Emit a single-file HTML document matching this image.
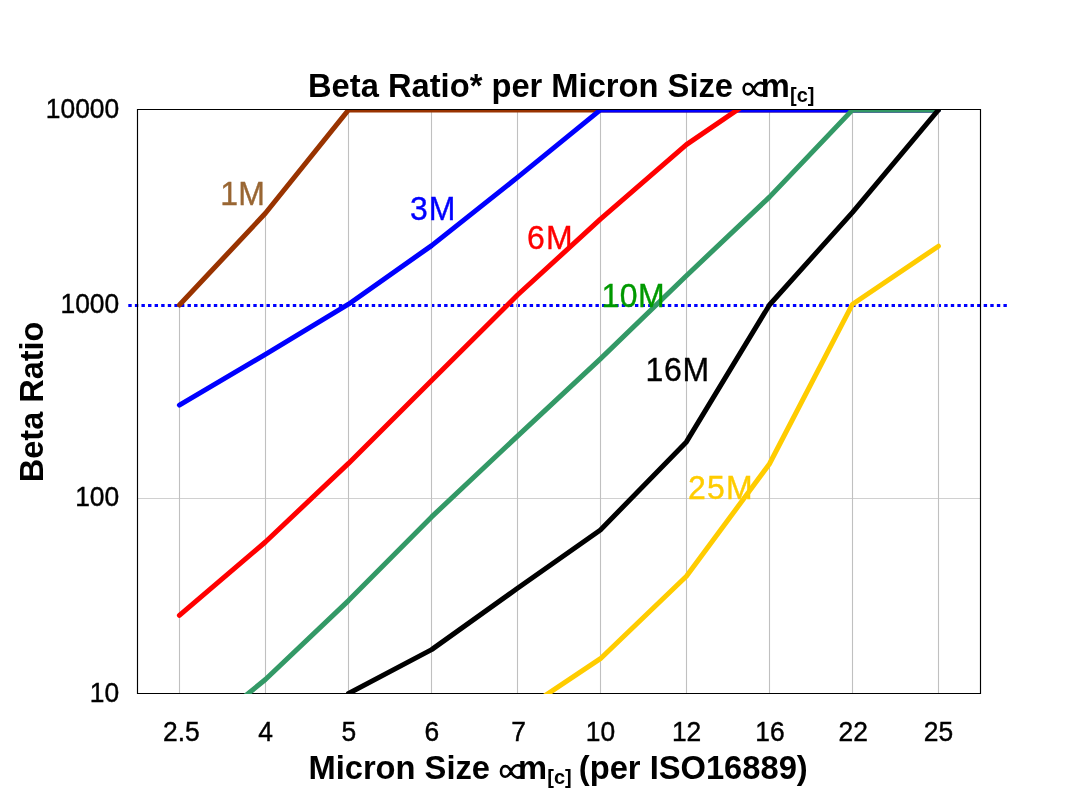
<!DOCTYPE html>
<html><head><meta charset="utf-8"><title>Beta Ratio per Micron Size</title>
<style>html,body{margin:0;padding:0;background:#fff;overflow:hidden}svg{display:block;will-change:transform}text{font-family:"Liberation Sans",sans-serif}.b{font-weight:bold}</style></head>
<body>
<svg width="1090" height="808" viewBox="0 0 1090 808">
<rect width="1090" height="808" fill="#fff"/>
<defs><clipPath id="plot"><rect x="137" y="110" width="844" height="584"/></clipPath></defs>
<line x1="128.3" y1="305.5" x2="1007" y2="305.5" stroke="#0000ff" stroke-width="3.2" stroke-dasharray="3.4 3.18"/>
<line x1="137.5" y1="498.5" x2="980.5" y2="498.5" stroke="#d0d0d0" stroke-width="1.05"/>
<line x1="179.5" y1="305.0" x2="179.5" y2="693.5" stroke="#c0c0c0" stroke-width="1.1"/>
<line x1="265.5" y1="213.3" x2="265.5" y2="693.5" stroke="#c0c0c0" stroke-width="1.1"/>
<line x1="348.5" y1="109.9" x2="348.5" y2="693.5" stroke="#c0c0c0" stroke-width="1.1"/>
<line x1="431.5" y1="109.9" x2="431.5" y2="693.5" stroke="#c0c0c0" stroke-width="1.1"/>
<line x1="517.5" y1="109.9" x2="517.5" y2="693.5" stroke="#c0c0c0" stroke-width="1.1"/>
<line x1="600.5" y1="109.9" x2="600.5" y2="693.5" stroke="#c0c0c0" stroke-width="1.1"/>
<line x1="686.5" y1="109.9" x2="686.5" y2="693.5" stroke="#c0c0c0" stroke-width="1.1"/>
<line x1="769.5" y1="109.9" x2="769.5" y2="693.5" stroke="#c0c0c0" stroke-width="1.1"/>
<line x1="852.5" y1="109.9" x2="852.5" y2="693.5" stroke="#c0c0c0" stroke-width="1.1"/>
<line x1="938.5" y1="109.9" x2="938.5" y2="693.5" stroke="#c0c0c0" stroke-width="1.1"/>
<path d="M137.5 109.5H980.5V693.5H137.5Z" fill="none" stroke="#000" stroke-width="1.15"/>
<g clip-path="url(#plot)" fill="none" stroke-width="5" stroke-linejoin="round" stroke-linecap="round">
<polyline stroke="#993300" points="179.4,305.0 265.4,213.3 348.5,109.9 431.6,109.9 517.5,109.9 600.4,109.9 686.4,109.9 769.4,109.9 852.5,109.9 938.4,109.9"/>
<polyline stroke="#0000ff" points="179.4,405.1 265.4,354.4 348.5,304.2 431.6,245.6 517.5,177.4 600.4,109.9 686.4,109.9 769.4,109.9 852.5,109.9 938.4,109.9"/>
<polyline stroke="#ff0000" points="179.4,615.4 265.4,542.0 348.5,463.4 431.6,380.4 517.5,295.0 600.4,219.2 686.4,144.6 769.4,88.0"/>
<polyline stroke="#339966" points="179.4,749.6 265.4,679.5 348.5,600.6 431.6,516.9 517.5,436.1 600.4,358.8 686.4,275.7 769.4,197.1 852.5,109.9 938.4,109.9"/>
<polyline stroke="#000000" points="348.5,693.5 431.6,649.6 517.5,588.3 600.4,530.0 686.4,441.9 769.4,305.0 852.5,212.3 938.4,109.9"/>
<polyline stroke="#ffcc00" points="517.5,714.0 600.4,658.7 686.4,576.3 769.4,464.0 852.5,304.2 938.4,246.2"/>
</g>
<text transform="translate(119.2,117.6) scale(1.0,1.043)" font-size="26.4" text-anchor="end" stroke="#000" stroke-width="0.4">10000</text>
<text transform="translate(119.2,313.4) scale(1.0,1.043)" font-size="26.4" text-anchor="end" stroke="#000" stroke-width="0.4">1000</text>
<text transform="translate(119.2,506.2) scale(1.0,1.043)" font-size="26.4" text-anchor="end" stroke="#000" stroke-width="0.4">100</text>
<text transform="translate(119.2,701.7) scale(1.0,1.043)" font-size="26.4" text-anchor="end" stroke="#000" stroke-width="0.4">10</text>
<text transform="translate(181.4,740.8) scale(1.0,1.043)" font-size="26.4" text-anchor="middle" stroke="#000" stroke-width="0.4">2.5</text>
<text transform="translate(265.5,740.8) scale(1.0,1.043)" font-size="26.4" text-anchor="middle" stroke="#000" stroke-width="0.4">4</text>
<text transform="translate(348.8,740.8) scale(1.0,1.043)" font-size="26.4" text-anchor="middle" stroke="#000" stroke-width="0.4">5</text>
<text transform="translate(431.8,740.8) scale(1.0,1.043)" font-size="26.4" text-anchor="middle" stroke="#000" stroke-width="0.4">6</text>
<text transform="translate(518.6,740.8) scale(1.0,1.043)" font-size="26.4" text-anchor="middle" stroke="#000" stroke-width="0.4">7</text>
<text transform="translate(600.4,740.8) scale(1.0,1.043)" font-size="26.4" text-anchor="middle" stroke="#000" stroke-width="0.4">10</text>
<text transform="translate(686.6,740.8) scale(1.0,1.043)" font-size="26.4" text-anchor="middle" stroke="#000" stroke-width="0.4">12</text>
<text transform="translate(770.0,740.8) scale(1.0,1.043)" font-size="26.4" text-anchor="middle" stroke="#000" stroke-width="0.4">16</text>
<text transform="translate(853.2,740.8) scale(1.0,1.043)" font-size="26.4" text-anchor="middle" stroke="#000" stroke-width="0.4">22</text>
<text transform="translate(938.5,740.8) scale(1.0,1.043)" font-size="26.4" text-anchor="middle" stroke="#000" stroke-width="0.4">25</text>
<text transform="translate(220.2,204.5) scale(1,1.043)" font-size="32" letter-spacing="0.2" fill="#996633" stroke="#996633" stroke-width="0.35">1M</text>
<text transform="translate(410.0,219.8) scale(1,1.043)" font-size="32" letter-spacing="1.0" fill="#0000ff" stroke="#0000ff" stroke-width="0.35">3M</text>
<text transform="translate(527.0,248.8) scale(1,1.043)" font-size="32" letter-spacing="1.1" fill="#ff0000" stroke="#ff0000" stroke-width="0.35">6M</text>
<text transform="translate(601.4,307.2) scale(1,1.043)" font-size="32" letter-spacing="0.55" fill="#009900" stroke="#009900" stroke-width="0.35">10M</text>
<text transform="translate(645.5,380.6) scale(1,1.043)" font-size="32" letter-spacing="0.65" fill="#000000" stroke="#000000" stroke-width="0.35">16M</text>
<text transform="translate(688.1,498.8) scale(1,1.043)" font-size="32" letter-spacing="1.2" fill="#ffcc00" stroke="#ffcc00" stroke-width="0.35">25M</text>
<defs><path id="prop" fill="none" stroke="#000" stroke-width="2.6" d="M764 84C761.5 82.6 758.4 82.8 756.6 84.6C755.2 86 754.3 87.4 753.6 89.1C752.9 90.8 751 94.4 747.9 94.4C745.3 94.4 743.7 92 743.7 89.1C743.7 86.2 745.3 83.8 747.9 83.8C751 83.8 752.9 87.4 753.6 89.1C754.3 90.8 755.2 92.2 756.6 93.6C758.4 95.4 761.5 95.6 764 94.2"/></defs>
<text transform="translate(308.0,97) scale(1.0,1.005)" font-size="32.7" text-anchor="start" class="b">Beta Ratio* per Micron Size</text>
<use href="#prop"/>
<text transform="translate(760.8,97) scale(1.0,1.005)" font-size="32.7" text-anchor="start" class="b">m</text>
<text transform="translate(790,101.5) scale(1.0,1.0)" font-size="20" text-anchor="start" class="b">[c]</text>
<text transform="translate(308.4,779.3) scale(1.0,1.005)" font-size="32.7" text-anchor="start" class="b">Micron Size</text>
<use href="#prop" transform="translate(-242.7,682.3)"/>
<text transform="translate(518.1,779.3) scale(1.0,1.005)" font-size="32.7" text-anchor="start" class="b">m</text>
<text transform="translate(547.3,783.8) scale(1.0,1.0)" font-size="20" text-anchor="start" class="b">[c]</text>
<text transform="translate(578.8,779.3) scale(1.0,1.005)" font-size="32.7" text-anchor="start" class="b">(per ISO16889)</text>
<text transform="translate(43.3,482.2) rotate(-90) scale(1.0,1.02)" font-size="32.5" text-anchor="start" class="b">Beta Ratio</text>
</svg></body></html>
